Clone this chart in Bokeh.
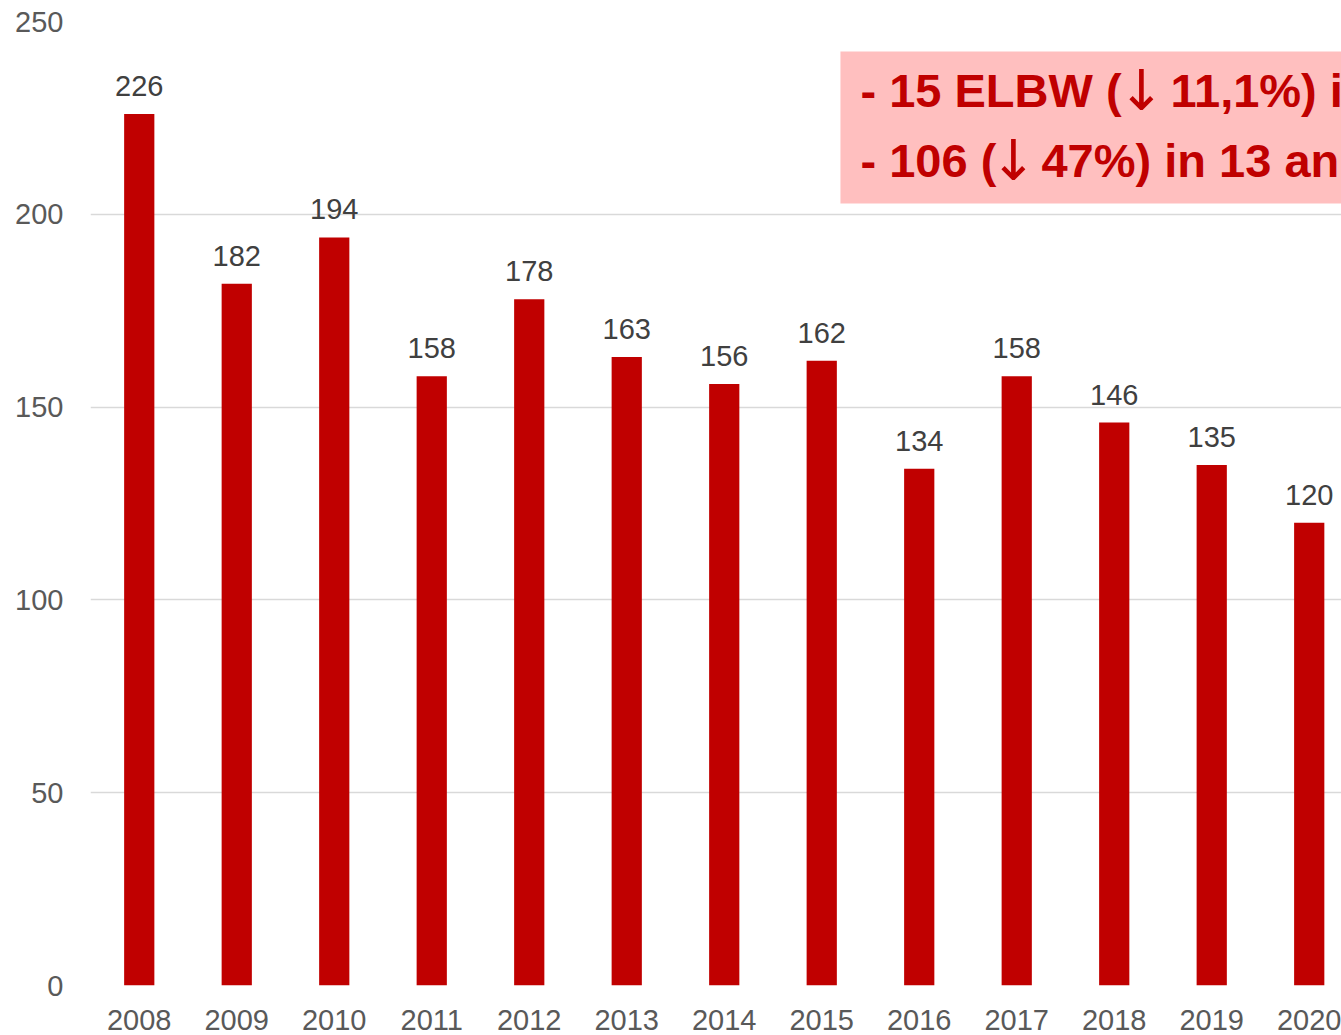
from bokeh.plotting import figure
from bokeh.models import ColumnDataSource, BoxAnnotation, Label, FixedTicker
from bokeh.core.properties import value
from bokeh.embed import file_html
from bokeh.resources import INLINE

years = ["2008", "2009", "2010", "2011", "2012", "2013", "2014",
         "2015", "2016", "2017", "2018", "2019", "2020"]
counts = [226, 182, 194, 158, 178, 163, 156, 162, 134, 158, 146, 135, 120]
y_ticks = [0, 50, 100, 150, 200, 250]
# note text split around the arrow glyph: (before, arrow, after)
note_lines = [("- 15 ELBW (", "\u2193", "11,1%) in un anno"),
              ("- 106 (", "\u2193", "47%) in 13 anni")]

idx = list(range(len(years)))
src = ColumnDataSource(dict(x=idx, y=counts, lab=[str(c) for c in counts]))

p = figure(width=1341, height=1035, output_backend="svg", toolbar_location=None,
           x_range=(-0.5, 12.331), y_range=(0, 250),
           min_border_left=90, min_border_right=0, min_border_top=21, min_border_bottom=50)
p.outline_line_color = None
p.background_fill_color = "white"
p.border_fill_color = "white"

p.vbar(x="x", top="y", width=0.31, source=src, fill_color="#C00000", line_color=None)
p.text(x="x", y="y", text="lab", source=src, text_align="center", text_baseline="middle",
       y_offset=-28, text_font=value("Liberation Sans"), text_font_size="29px",
       text_color="#404040")

p.xgrid.grid_line_color = None
p.ygrid.grid_line_color = "#D9D9D9"
p.ygrid.grid_line_width = 1.5
p.ygrid.ticker = FixedTicker(ticks=y_ticks)

p.yaxis.ticker = FixedTicker(ticks=y_ticks)
p.yaxis.axis_line_color = None
p.yaxis.major_tick_line_color = None
p.yaxis.minor_tick_line_color = None
p.yaxis.major_label_standoff = 21
p.yaxis.major_label_text_font = "Liberation Sans"
p.yaxis.major_label_text_font_size = "29px"
p.yaxis.major_label_text_color = "#595959"

p.xaxis.ticker = FixedTicker(ticks=idx)
p.xaxis.major_label_overrides = {i: y for i, y in zip(idx, years)}
p.xaxis.axis_line_color = None
p.xaxis.major_tick_line_color = None
p.xaxis.minor_tick_line_color = None
p.xaxis.major_label_standoff = 18
p.xaxis.major_label_text_font = "Liberation Sans"
p.xaxis.major_label_text_font_size = "29px"
p.xaxis.major_label_text_color = "#595959"

box = BoxAnnotation(left=7.192, right=14, bottom=202.8, top=242.2,
                    fill_color="#FFBFBF", fill_alpha=1.0, line_color=None, level="overlay")
p.add_layout(box)

x0 = 7.397
centers = [232.0, 213.9]
arrow_off = [281, 153]
after_off = [310, 181]
for yy, (a, arr, b), ao, bo in zip(centers, note_lines, arrow_off, after_off):
    common = dict(x=x0, y=yy, text_color="#C00000", text_baseline="middle", level="overlay")
    p.add_layout(Label(text=a, text_font="Liberation Sans", text_font_style="bold",
                       text_font_size="47px", **common))
    p.add_layout(Label(text=arr, text_font="DejaVu Sans", text_font_size="56px",
                       text_align="center", x_offset=ao, **common))
    p.add_layout(Label(text=b, text_font="Liberation Sans", text_font_style="bold",
                       text_font_size="47px", x_offset=bo, **common))

open("out.html", "w").write(file_html(p, INLINE))
